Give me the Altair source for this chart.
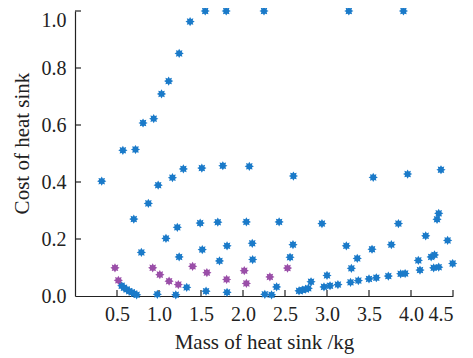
import math
import altair as alt
import pandas as pd

# ---- data ----
blue_mass = [
    0.57, 0.72, 0.81, 0.937, 1.03, 1.115, 1.24, 1.37, 1.55, 1.80, 2.25, 3.26, 3.91,
    0.318, 0.70, 0.873, 0.99, 1.16, 1.29, 1.51, 1.76, 2.075, 2.60, 3.55, 3.96, 4.357,
    0.79, 1.083, 1.218, 1.49, 1.70, 2.04, 2.43, 2.94, 3.85, 4.31, 4.33,
    1.24, 1.515, 1.81, 2.11, 2.595, 3.23, 3.536, 3.766, 4.175, 4.436,
    1.33, 1.72, 2.115, 2.56, 3.36, 4.087, 4.24, 4.28,
    1.56, 1.81, 2.40, 2.81, 3.0, 3.29, 4.107, 4.27, 4.33, 4.496,
    0.556, 0.583, 0.615, 0.646, 0.675, 0.706, 0.734, 0.98, 1.20, 2.26, 2.34,
    2.667, 2.706, 2.746, 2.777, 2.964, 3.036, 3.13, 3.28, 3.373, 3.5, 3.587, 3.73, 3.877, 3.93,
]
blue_cost = [
    0.511, 0.514, 0.607, 0.622, 0.709, 0.754, 0.851, 0.963, 1.0, 1.0, 1.0, 1.0, 1.0,
    0.403, 0.27, 0.325, 0.389, 0.415, 0.446, 0.449, 0.457, 0.455, 0.421, 0.416, 0.428, 0.443,
    0.153, 0.202, 0.241, 0.256, 0.259, 0.26, 0.26, 0.254, 0.254, 0.269, 0.29,
    0.137, 0.163, 0.176, 0.185, 0.18, 0.176, 0.164, 0.18, 0.211, 0.195,
    0.03, 0.123, 0.128, 0.136, 0.132, 0.125, 0.137, 0.144,
    0.017, 0.013, 0.032, 0.05, 0.072, 0.097, 0.091, 0.099, 0.101, 0.114,
    0.036, 0.029, 0.023, 0.017, 0.013, 0.008, 0.004, 0.006, 0.004, 0.006, 0.004,
    0.018, 0.021, 0.024, 0.027, 0.032, 0.036, 0.04, 0.048, 0.054, 0.06, 0.064, 0.07, 0.078, 0.079,
]
purple_mass = [0.476, 0.516, 0.925, 1.01, 1.12, 1.23, 1.40, 1.57, 1.805, 2.015, 2.04, 2.32, 2.53]
purple_cost = [0.099, 0.055, 0.099, 0.075, 0.052, 0.04, 0.104, 0.082, 0.058, 0.089, 0.044, 0.067, 0.098]

x_ticks = [0.5, 1.0, 1.5, 2.0, 2.5, 3.0, 3.5, 4.0, 4.5]
y_ticks = [0.0, 0.2, 0.4, 0.6, 0.8, 1.0]

# ---- tables ----
pts = pd.DataFrame({
    "mass": blue_mass + purple_mass,
    "cost": blue_cost + purple_cost,
    "group": ["blue"] * len(blue_mass) + ["purple"] * len(purple_mass),
})
xt = pd.DataFrame({"mass": x_ticks})
yt = pd.DataFrame({"cost": y_ticks[1:]})

# asterisk-like star shape
n = 8
coords = []
for k in range(2 * n):
    r = 1.0 if k % 2 == 0 else 0.62
    a = math.pi * k / n
    coords.append(f"{r*math.cos(a):.3f},{r*math.sin(a):.3f}")
star = "M" + " L".join(coords) + " Z"

FONT = "Liberation Serif"
W, H = 378, 285

xscale = alt.Scale(domain=[0, 4.5], nice=False, zero=False)
yscale = alt.Scale(domain=[0, 1.0], nice=False)

points = alt.Chart(pts).mark_point(shape=star, filled=True, size=85, opacity=1).encode(
    x=alt.X("mass:Q", scale=xscale, axis=alt.Axis(
        title="Mass of heat sink /kg", values=x_ticks, format=".1f", grid=False,
        ticks=False, labelPadding=8, titlePadding=7)),
    y=alt.Y("cost:Q", scale=yscale, axis=alt.Axis(
        title="Cost of heat sink", values=y_ticks, format=".1f", grid=False,
        ticks=False, labelPadding=9, titlePadding=9, titleY=132,
        labelOffset=alt.ExprRef("datum.value == 1 ? 9 : 0"))),
    color=alt.Color("group:N", scale=alt.Scale(domain=["blue", "purple"],
                                               range=["#1a7ac9", "#9a4ea8"]), legend=None),
)

xtick_marks = alt.Chart(xt).mark_rule(color="#222", strokeWidth=1.2).encode(
    x="mass:Q", y=alt.value(H), y2=alt.value(H - 6))
ytick_marks = alt.Chart(yt).mark_rule(color="#222", strokeWidth=1.2).encode(
    y="cost:Q", x=alt.value(0), x2=alt.value(6))

chart = alt.layer(xtick_marks, ytick_marks, points).properties(
    width=W, height=H,
    autosize=alt.AutoSizeParams(type="none"),
    padding={"left": 67, "top": 3, "right": 12, "bottom": 62},
).configure_view(stroke=None).configure_axis(
    domainColor="#222", domainWidth=1.2,
    labelFont=FONT, labelFontSize=20, labelColor="#222",
    titleFont=FONT, titleFontSize=21, titleFontWeight="normal", titleColor="#222",
)

chart.save("out.html", embed_options={"renderer": "svg", "actions": False})
